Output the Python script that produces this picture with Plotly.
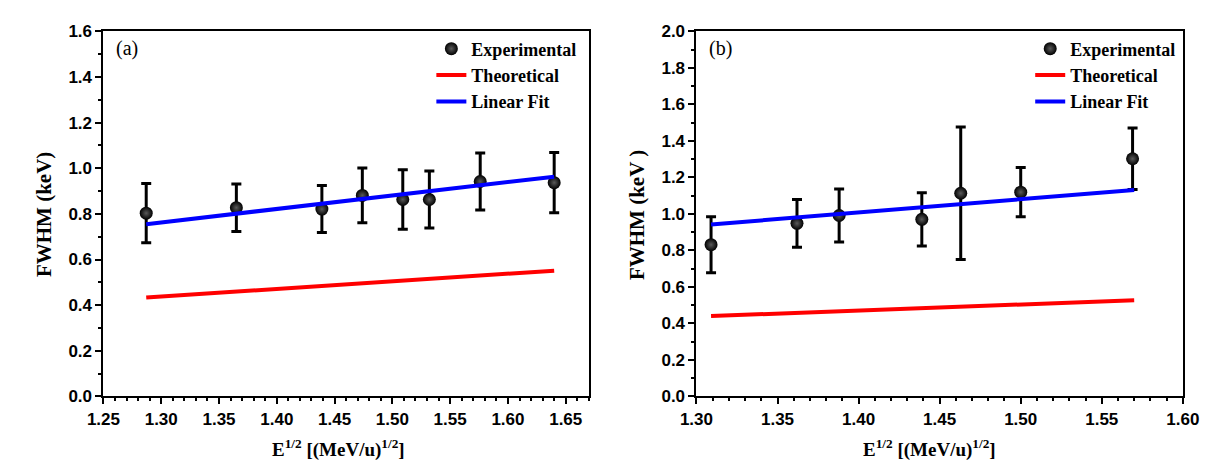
import plotly.graph_objects as go

# ---- Panel (a) data ----
x_a = [1.287, 1.365, 1.439, 1.474, 1.509, 1.532, 1.576, 1.640]
y_a = [0.803, 0.827, 0.821, 0.881, 0.863, 0.863, 0.942, 0.937]
err_a = [0.130, 0.104, 0.103, 0.120, 0.130, 0.125, 0.125, 0.132]
line_x_a = [1.287, 1.640]
theo_a = [0.433, 0.551]
fit_a = [0.755, 0.963]

# ---- Panel (b) data ----
x_b = [1.309, 1.362, 1.388, 1.439, 1.463, 1.500, 1.569]
y_b = [0.831, 0.948, 0.991, 0.970, 1.113, 1.119, 1.302]
err_b = [0.153, 0.131, 0.145, 0.146, 0.363, 0.135, 0.169]
line_x_b = [1.309, 1.570]
theo_b = [0.440, 0.527]
fit_b = [0.942, 1.131]

W, H = 1221, 466
def px(x):
    return x / W
def py(y):
    return 1 - y / H

serif_b = dict(family="Liberation Serif, Times New Roman, serif", color="black", weight="bold")
sans_b = dict(family="Liberation Sans, Arial, sans-serif", color="black", size=17, weight="bold")

fig = go.Figure()

def add_panel(xs, ys, errs, lx, theo, fit, xa, ya, leg):
    fig.add_trace(go.Scatter(
        x=xs, y=ys, mode="markers", name="Experimental",
        marker=dict(color="black", size=13, gradient=dict(type="radial", color="#5a5a5a"),
                    line=dict(width=0)),
        error_y=dict(type="data", array=errs, visible=True, color="black", thickness=3, width=5),
        xaxis=xa, yaxis=ya, legend=leg))
    fig.add_trace(go.Scatter(
        x=lx, y=theo, mode="lines", name="Theoretical",
        line=dict(color="#ff0000", width=4), xaxis=xa, yaxis=ya, legend=leg))
    fig.add_trace(go.Scatter(
        x=lx, y=fit, mode="lines", name="Linear Fit",
        line=dict(color="#0000ff", width=4), xaxis=xa, yaxis=ya, legend=leg))

add_panel(x_a, y_a, err_a, line_x_a, theo_a, fit_a, "x", "y", "legend")
add_panel(x_b, y_b, err_b, line_x_b, theo_b, fit_b, "x2", "y2", "legend2")

ax_common = dict(showline=True, linewidth=2, linecolor="black", mirror=True,
                 ticks="outside", ticklen=6, tickwidth=2, tickcolor="black",
                 showgrid=False, zeroline=False, tickfont=sans_b)
minor_t = dict(ticks="outside", ticklen=3, tickwidth=2, tickcolor="black")

yd = [py(395.5), py(15)]
fig.update_layout(
    width=W, height=H, margin=dict(l=0, r=0, t=0, b=0),
    paper_bgcolor="white", plot_bgcolor="white", showlegend=True,
    xaxis=dict(domain=[px(80.7), px(580)], range=[1.25, 1.67], dtick=0.05, tickformat=".2f",
               minor=dict(dtick=0.01, **minor_t), anchor="y", **ax_common),
    yaxis=dict(domain=yd, range=[0, 1.6], dtick=0.2, tickformat=".1f",
               minor=dict(dtick=0.1, **minor_t), anchor="x", **ax_common),
    xaxis2=dict(domain=[px(690.7), px(1191)], range=[1.30, 1.60], dtick=0.05, tickformat=".2f",
                minor=dict(dtick=0.01, **minor_t), anchor="y2", **ax_common),
    yaxis2=dict(domain=yd, range=[0, 2.0], dtick=0.2, tickformat=".1f",
                minor=dict(dtick=0.1, **minor_t), anchor="x2", **ax_common),
    legend=dict(x=px(418), y=py(14), xanchor="left", yanchor="top",
                bgcolor="rgba(0,0,0,0)", font=dict(size=18, **serif_b),
                tracegroupgap=0, itemwidth=30),
    legend2=dict(x=px(1034), y=py(14), xanchor="left", yanchor="top",
                 bgcolor="rgba(0,0,0,0)", font=dict(size=18, **serif_b),
                 tracegroupgap=0, itemwidth=30),
)

ann = []
for lab, xx in (("(a)", 92), ("(b)", 702)):
    ann.append(dict(text=lab, x=px(xx), y=py(33), xref="paper", yref="paper",
                    xanchor="left", yanchor="middle", showarrow=False,
                    font=dict(family="Liberation Serif, Times New Roman, serif", size=20, color="black")))
ann.append(dict(text="FWHM (keV)", x=px(19), y=py(206), xref="paper", yref="paper",
                textangle=-90, showarrow=False, xanchor="center", yanchor="middle",
                font=dict(size=21, **serif_b)))
ann.append(dict(text="FWHM (keV )", x=px(629), y=py(206), xref="paper", yref="paper",
                textangle=-90, showarrow=False, xanchor="center", yanchor="middle",
                font=dict(size=21, **serif_b)))
xt = "E<sup>1/2</sup> [(MeV/u)<sup>1/2</sup>]"
ann.append(dict(text=xt, x=px(322), y=py(450), xref="paper", yref="paper",
                showarrow=False, xanchor="center", yanchor="middle",
                font=dict(size=19, **serif_b)))
ann.append(dict(text=xt, x=px(930), y=py(450), xref="paper", yref="paper",
                showarrow=False, xanchor="center", yanchor="middle",
                font=dict(size=19, **serif_b)))
fig.update_layout(annotations=ann)

fig.write_html("out.html")
